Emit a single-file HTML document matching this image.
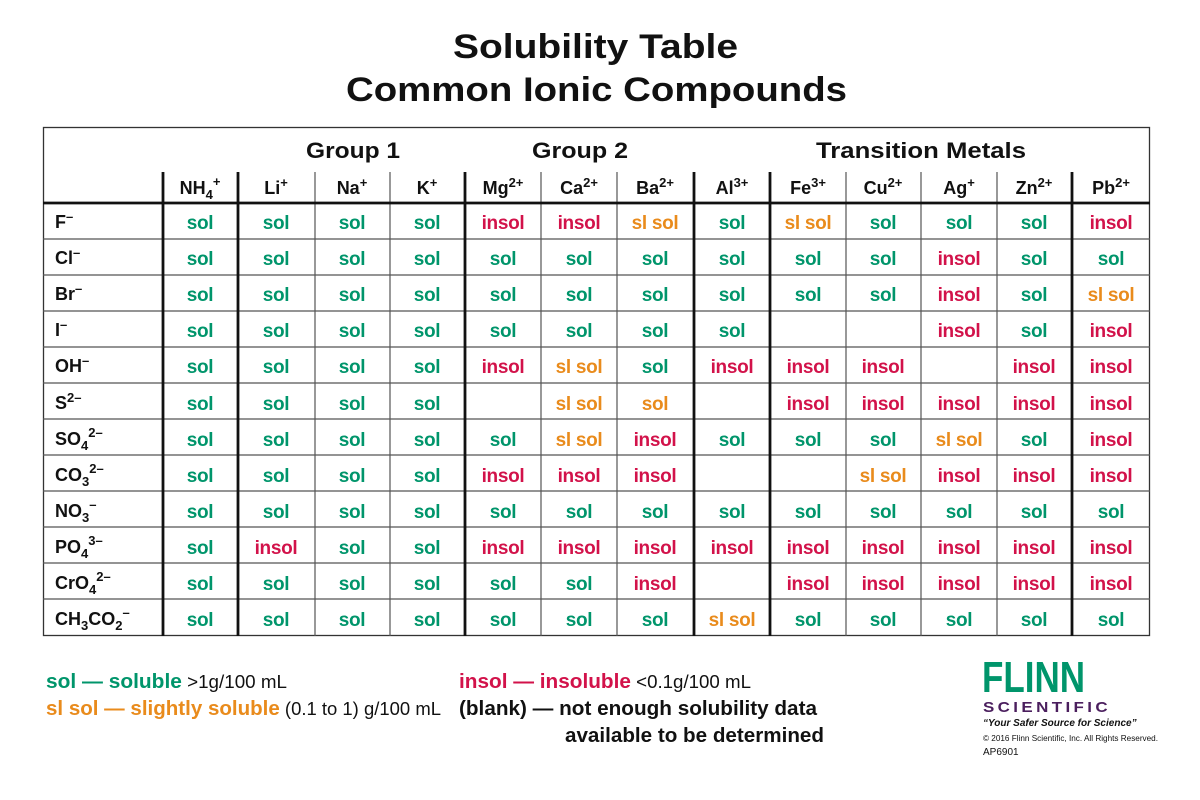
<!DOCTYPE html>
<html><head><meta charset="utf-8"><style>
html,body{margin:0;padding:0;background:#fff;}
svg{display:block;font-family:"Liberation Sans",Arial,sans-serif;font-weight:bold;}
.g{fill:#00956b}.r{fill:#d2124a}.o{fill:#e98b1c}
.c{font-size:19px;text-anchor:middle;letter-spacing:-0.3px}
.h{font-size:18px;text-anchor:middle;fill:#111}
.a{font-size:18px;fill:#111}
</style></head><body>
<svg width="1200" height="800" viewBox="0 0 1200 800" xmlns="http://www.w3.org/2000/svg">
<text x="453" y="58" font-size="34" fill="#111" textLength="285" lengthAdjust="spacingAndGlyphs">Solubility Table</text>
<text x="346" y="101" font-size="34" fill="#111" textLength="501" lengthAdjust="spacingAndGlyphs">Common Ionic Compounds</text>
<rect x="43.5" y="127.5" width="1106" height="508" fill="none" stroke="#333" stroke-width="1.3"/>
<g font-size="22" fill="#111">
<text x="306" y="158" textLength="94" lengthAdjust="spacingAndGlyphs">Group 1</text><text x="532" y="158" textLength="96" lengthAdjust="spacingAndGlyphs">Group 2</text><text x="816" y="158" textLength="210" lengthAdjust="spacingAndGlyphs">Transition Metals</text></g>
<g stroke="#555" stroke-width="1.2">
<line x1="43" y1="239" x2="1150" y2="239"/><line x1="43" y1="275" x2="1150" y2="275"/><line x1="43" y1="311" x2="1150" y2="311"/><line x1="43" y1="347" x2="1150" y2="347"/><line x1="43" y1="383" x2="1150" y2="383"/><line x1="43" y1="419" x2="1150" y2="419"/><line x1="43" y1="455" x2="1150" y2="455"/><line x1="43" y1="491" x2="1150" y2="491"/><line x1="43" y1="527" x2="1150" y2="527"/><line x1="43" y1="563" x2="1150" y2="563"/><line x1="43" y1="599" x2="1150" y2="599"/>
<line x1="315" y1="172" x2="315" y2="636"/><line x1="390" y1="172" x2="390" y2="636"/><line x1="541" y1="172" x2="541" y2="636"/><line x1="617" y1="172" x2="617" y2="636"/><line x1="846" y1="172" x2="846" y2="636"/><line x1="921" y1="172" x2="921" y2="636"/><line x1="997" y1="172" x2="997" y2="636"/>
</g>
<g stroke="#111" stroke-width="2.8">
<line x1="43" y1="203" x2="1150" y2="203"/>
<line x1="163" y1="172" x2="163" y2="636"/><line x1="238" y1="172" x2="238" y2="636"/><line x1="465" y1="172" x2="465" y2="636"/><line x1="694" y1="172" x2="694" y2="636"/><line x1="770" y1="172" x2="770" y2="636"/><line x1="1072" y1="172" x2="1072" y2="636"/>
</g>
<g class="h">
<text x="200" y="194">NH<tspan font-size="13" dy="5">4</tspan><tspan font-size="13" dy="-13">+</tspan></text>
<text x="276" y="194">Li<tspan font-size="13" dy="-7">+</tspan></text>
<text x="352" y="194">Na<tspan font-size="13" dy="-7">+</tspan></text>
<text x="427" y="194">K<tspan font-size="13" dy="-7">+</tspan></text>
<text x="503" y="194">Mg<tspan font-size="13" dy="-7">2+</tspan></text>
<text x="579" y="194">Ca<tspan font-size="13" dy="-7">2+</tspan></text>
<text x="655" y="194">Ba<tspan font-size="13" dy="-7">2+</tspan></text>
<text x="732" y="194">Al<tspan font-size="13" dy="-7">3+</tspan></text>
<text x="808" y="194">Fe<tspan font-size="13" dy="-7">3+</tspan></text>
<text x="883" y="194">Cu<tspan font-size="13" dy="-7">2+</tspan></text>
<text x="959" y="194">Ag<tspan font-size="13" dy="-7">+</tspan></text>
<text x="1034" y="194">Zn<tspan font-size="13" dy="-7">2+</tspan></text>
<text x="1111" y="194">Pb<tspan font-size="13" dy="-7">2+</tspan></text>
</g>
<g class="a">
<text x="55" y="228">F<tspan font-size="13" dy="-7">–</tspan></text>
<text x="55" y="264">Cl<tspan font-size="13" dy="-7">–</tspan></text>
<text x="55" y="300">Br<tspan font-size="13" dy="-7">–</tspan></text>
<text x="55" y="336">I<tspan font-size="13" dy="-7">–</tspan></text>
<text x="55" y="372">OH<tspan font-size="13" dy="-7">–</tspan></text>
<text x="55" y="409">S<tspan font-size="13" dy="-7">2–</tspan></text>
<text x="55" y="445">SO<tspan font-size="13" dy="5">4</tspan><tspan font-size="13" dy="-13">2–</tspan></text>
<text x="55" y="481">CO<tspan font-size="13" dy="5">3</tspan><tspan font-size="13" dy="-13">2–</tspan></text>
<text x="55" y="517">NO<tspan font-size="13" dy="5">3</tspan><tspan font-size="13" dy="-13">–</tspan></text>
<text x="55" y="553">PO<tspan font-size="13" dy="5">4</tspan><tspan font-size="13" dy="-13">3–</tspan></text>
<text x="55" y="589">CrO<tspan font-size="13" dy="5">4</tspan><tspan font-size="13" dy="-13">2–</tspan></text>
<text x="55" y="625">CH<tspan font-size="13" dy="5">3</tspan><tspan dy="-5">CO</tspan><tspan font-size="13" dy="5">2</tspan><tspan font-size="13" dy="-13">–</tspan></text>
</g>
<g class="c">
<text x="200" y="229" class="g">sol</text><text x="276" y="229" class="g">sol</text><text x="352" y="229" class="g">sol</text><text x="427" y="229" class="g">sol</text><text x="503" y="229" class="r">insol</text><text x="579" y="229" class="r">insol</text><text x="655" y="229" class="o">sl sol</text><text x="732" y="229" class="g">sol</text><text x="808" y="229" class="o">sl sol</text><text x="883" y="229" class="g">sol</text><text x="959" y="229" class="g">sol</text><text x="1034" y="229" class="g">sol</text><text x="1111" y="229" class="r">insol</text>
<text x="200" y="265" class="g">sol</text><text x="276" y="265" class="g">sol</text><text x="352" y="265" class="g">sol</text><text x="427" y="265" class="g">sol</text><text x="503" y="265" class="g">sol</text><text x="579" y="265" class="g">sol</text><text x="655" y="265" class="g">sol</text><text x="732" y="265" class="g">sol</text><text x="808" y="265" class="g">sol</text><text x="883" y="265" class="g">sol</text><text x="959" y="265" class="r">insol</text><text x="1034" y="265" class="g">sol</text><text x="1111" y="265" class="g">sol</text>
<text x="200" y="301" class="g">sol</text><text x="276" y="301" class="g">sol</text><text x="352" y="301" class="g">sol</text><text x="427" y="301" class="g">sol</text><text x="503" y="301" class="g">sol</text><text x="579" y="301" class="g">sol</text><text x="655" y="301" class="g">sol</text><text x="732" y="301" class="g">sol</text><text x="808" y="301" class="g">sol</text><text x="883" y="301" class="g">sol</text><text x="959" y="301" class="r">insol</text><text x="1034" y="301" class="g">sol</text><text x="1111" y="301" class="o">sl sol</text>
<text x="200" y="337" class="g">sol</text><text x="276" y="337" class="g">sol</text><text x="352" y="337" class="g">sol</text><text x="427" y="337" class="g">sol</text><text x="503" y="337" class="g">sol</text><text x="579" y="337" class="g">sol</text><text x="655" y="337" class="g">sol</text><text x="732" y="337" class="g">sol</text><text x="959" y="337" class="r">insol</text><text x="1034" y="337" class="g">sol</text><text x="1111" y="337" class="r">insol</text>
<text x="200" y="373" class="g">sol</text><text x="276" y="373" class="g">sol</text><text x="352" y="373" class="g">sol</text><text x="427" y="373" class="g">sol</text><text x="503" y="373" class="r">insol</text><text x="579" y="373" class="o">sl sol</text><text x="655" y="373" class="g">sol</text><text x="732" y="373" class="r">insol</text><text x="808" y="373" class="r">insol</text><text x="883" y="373" class="r">insol</text><text x="1034" y="373" class="r">insol</text><text x="1111" y="373" class="r">insol</text>
<text x="200" y="410" class="g">sol</text><text x="276" y="410" class="g">sol</text><text x="352" y="410" class="g">sol</text><text x="427" y="410" class="g">sol</text><text x="579" y="410" class="o">sl sol</text><text x="655" y="410" class="o">sol</text><text x="808" y="410" class="r">insol</text><text x="883" y="410" class="r">insol</text><text x="959" y="410" class="r">insol</text><text x="1034" y="410" class="r">insol</text><text x="1111" y="410" class="r">insol</text>
<text x="200" y="446" class="g">sol</text><text x="276" y="446" class="g">sol</text><text x="352" y="446" class="g">sol</text><text x="427" y="446" class="g">sol</text><text x="503" y="446" class="g">sol</text><text x="579" y="446" class="o">sl sol</text><text x="655" y="446" class="r">insol</text><text x="732" y="446" class="g">sol</text><text x="808" y="446" class="g">sol</text><text x="883" y="446" class="g">sol</text><text x="959" y="446" class="o">sl sol</text><text x="1034" y="446" class="g">sol</text><text x="1111" y="446" class="r">insol</text>
<text x="200" y="482" class="g">sol</text><text x="276" y="482" class="g">sol</text><text x="352" y="482" class="g">sol</text><text x="427" y="482" class="g">sol</text><text x="503" y="482" class="r">insol</text><text x="579" y="482" class="r">insol</text><text x="655" y="482" class="r">insol</text><text x="883" y="482" class="o">sl sol</text><text x="959" y="482" class="r">insol</text><text x="1034" y="482" class="r">insol</text><text x="1111" y="482" class="r">insol</text>
<text x="200" y="518" class="g">sol</text><text x="276" y="518" class="g">sol</text><text x="352" y="518" class="g">sol</text><text x="427" y="518" class="g">sol</text><text x="503" y="518" class="g">sol</text><text x="579" y="518" class="g">sol</text><text x="655" y="518" class="g">sol</text><text x="732" y="518" class="g">sol</text><text x="808" y="518" class="g">sol</text><text x="883" y="518" class="g">sol</text><text x="959" y="518" class="g">sol</text><text x="1034" y="518" class="g">sol</text><text x="1111" y="518" class="g">sol</text>
<text x="200" y="554" class="g">sol</text><text x="276" y="554" class="r">insol</text><text x="352" y="554" class="g">sol</text><text x="427" y="554" class="g">sol</text><text x="503" y="554" class="r">insol</text><text x="579" y="554" class="r">insol</text><text x="655" y="554" class="r">insol</text><text x="732" y="554" class="r">insol</text><text x="808" y="554" class="r">insol</text><text x="883" y="554" class="r">insol</text><text x="959" y="554" class="r">insol</text><text x="1034" y="554" class="r">insol</text><text x="1111" y="554" class="r">insol</text>
<text x="200" y="590" class="g">sol</text><text x="276" y="590" class="g">sol</text><text x="352" y="590" class="g">sol</text><text x="427" y="590" class="g">sol</text><text x="503" y="590" class="g">sol</text><text x="579" y="590" class="g">sol</text><text x="655" y="590" class="r">insol</text><text x="808" y="590" class="r">insol</text><text x="883" y="590" class="r">insol</text><text x="959" y="590" class="r">insol</text><text x="1034" y="590" class="r">insol</text><text x="1111" y="590" class="r">insol</text>
<text x="200" y="626" class="g">sol</text><text x="276" y="626" class="g">sol</text><text x="352" y="626" class="g">sol</text><text x="427" y="626" class="g">sol</text><text x="503" y="626" class="g">sol</text><text x="579" y="626" class="g">sol</text><text x="655" y="626" class="g">sol</text><text x="732" y="626" class="o">sl sol</text><text x="808" y="626" class="g">sol</text><text x="883" y="626" class="g">sol</text><text x="959" y="626" class="g">sol</text><text x="1034" y="626" class="g">sol</text><text x="1111" y="626" class="g">sol</text>
</g>
<g font-size="20">
<text x="46" y="688" textLength="241" lengthAdjust="spacingAndGlyphs"><tspan class="g">sol — soluble</tspan><tspan font-weight="normal" fill="#111" font-size="18"> &gt;1g/100 mL</tspan></text>
<text x="46" y="715" textLength="395" lengthAdjust="spacingAndGlyphs"><tspan class="o">sl sol — slightly soluble</tspan><tspan font-weight="normal" fill="#111" font-size="18"> (0.1 to 1) g/100 mL</tspan></text>
<text x="459" y="688" textLength="292" lengthAdjust="spacingAndGlyphs"><tspan class="r">insol — insoluble</tspan><tspan font-weight="normal" fill="#111" font-size="18"> &lt;0.1g/100 mL</tspan></text>
<text x="459" y="715" fill="#111" textLength="358" lengthAdjust="spacingAndGlyphs">(blank) — not enough solubility data</text>
<text x="565" y="742" fill="#111" textLength="259" lengthAdjust="spacingAndGlyphs">available to be determined</text>
</g>
<text x="982" y="692" font-size="44" fill="#00956b" textLength="103" lengthAdjust="spacingAndGlyphs">FLINN</text>
<text x="983" y="712" font-size="15" fill="#4b1f5e" letter-spacing="3" textLength="128" lengthAdjust="spacingAndGlyphs">SCIENTIFIC</text>
<text x="983" y="726" font-size="10" font-style="italic" fill="#111">“Your Safer Source for Science”</text>
<text x="983" y="741" font-size="8.5" font-weight="normal" fill="#111" textLength="175" lengthAdjust="spacingAndGlyphs">© 2016 Flinn Scientific, Inc. All Rights Reserved.</text>
<text x="983" y="755" font-size="10" font-weight="normal" fill="#111">AP6901</text>
</svg>
</body></html>
